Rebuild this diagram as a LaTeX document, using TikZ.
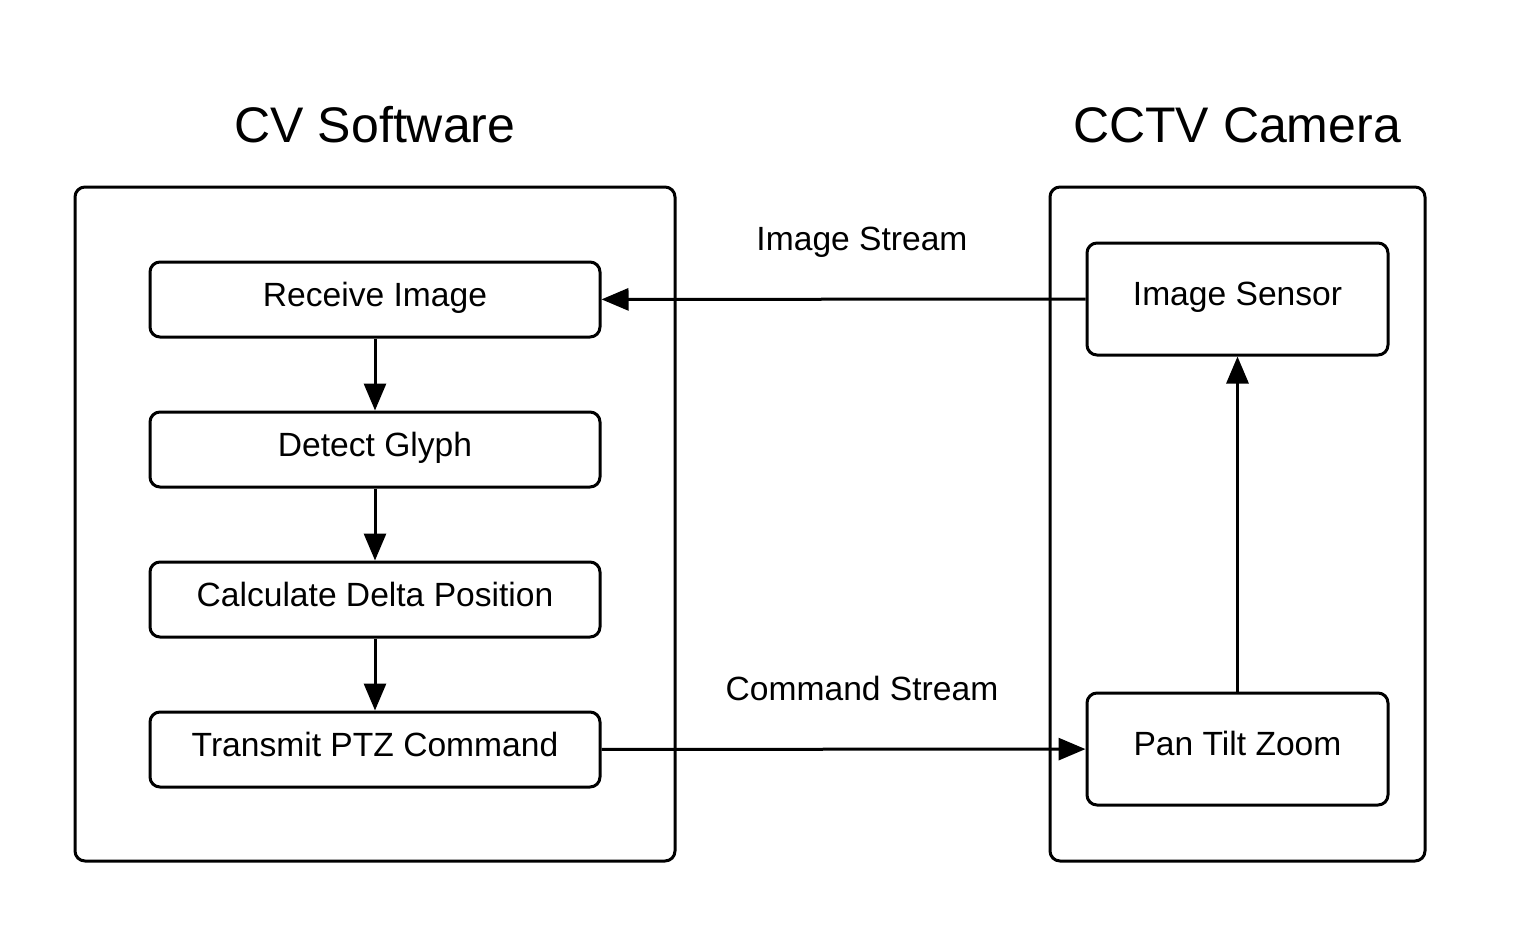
\documentclass[tikz,border=0pt]{standalone}
\usepackage{fontspec}
\setmainfont{Liberation Sans}
\usetikzlibrary{arrows.meta}
\begin{document}
\begin{tikzpicture}[x=0.5pt,y=-0.5pt,
  container/.style={draw,line width=1.5pt,rounded corners=5pt},
  boxtext/.style={font=\fontsize{16.8}{20}\selectfont,text height=0.9em,text depth=0.21em,inner sep=0pt},
  stepbox/.style={draw,line width=1.5pt,rounded corners=5pt,minimum width=225pt,minimum height=37.5pt,boxtext},
  sidebox/.style={draw,line width=1.5pt,rounded corners=5pt,minimum width=150.5pt,minimum height=56pt,boxtext},
  title/.style={font=\fontsize{25}{30}\selectfont},
  lbl/.style={font=\fontsize{16.8}{20}\selectfont},
  conn/.style={line width=1.5pt,-{Triangle[length=13.5pt,width=11pt]}}]
\useasboundingbox (0,0) rectangle (1538,938);
\draw[container] (75,187) rectangle (675,861);
\draw[container] (1050,187) rectangle (1425,861);
\node[title] (t1) at (375,125) {CV Software};
\node[title] (t2) at (1237,125) {CCTV Camera};
\node[stepbox] (r) at (375,299.5) {Receive Image};
\node[stepbox] (d) at (375,449.5) {Detect Glyph};
\node[stepbox] (c) at (375,599.5) {Calculate Delta Position};
\node[stepbox] (tr) at (375,749.5) {Transmit PTZ Command};
\node[sidebox] (is) at (1237.5,299) {Image Sensor};
\node[sidebox] (p) at (1237.5,749) {Pan Tilt Zoom};
\node[lbl] (l1) at (862,242) {Image Stream};
\node[lbl] (l2) at (862,688) {Command Stream};
\draw[conn] (r) -- (d);
\draw[conn] (d) -- (c);
\draw[conn] (c) -- (tr);
\draw[conn] (is) -- (r);
\draw[conn] (tr) -- (p);
\draw[conn] (p) -- (is);
\end{tikzpicture}
\end{document}
